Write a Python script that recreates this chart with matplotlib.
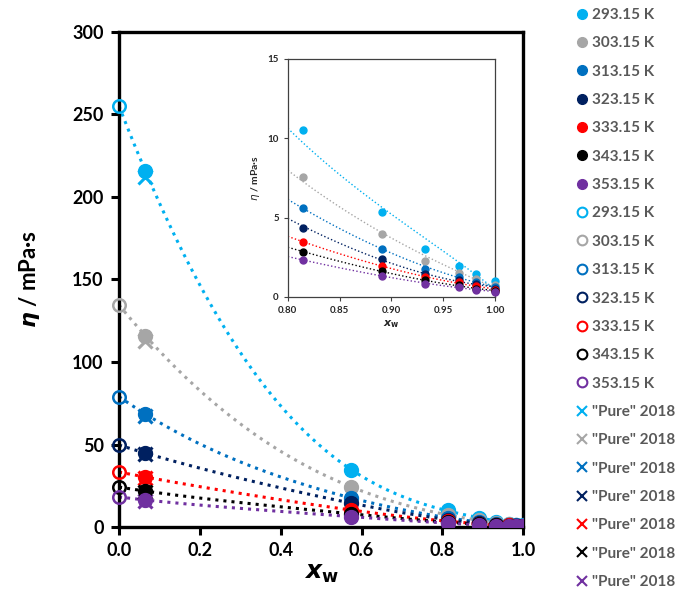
import numpy as np
import matplotlib
matplotlib.use('Agg')
import matplotlib.pyplot as plt
from matplotlib.lines import Line2D

plt.rcParams['font.family'] = ['Lato', 'DejaVu Sans']
plt.rcParams['mathtext.fontset'] = 'dejavusans'

# temperatures and colours
temps = ['293.15 K', '303.15 K', '313.15 K', '323.15 K', '333.15 K', '343.15 K', '353.15 K']
colors = ['#00B0F0', '#A6A6A6', '#0070C0', '#002060', '#FF0000', '#000000', '#7030A0']

# pure component (x_w = 0), open circles
x_open = 0.0
eta_open = [255, 134.5, 79, 49.7, 33.3, 24.2, 18.2]

# mixtures, filled circles
x_fill = [0.065, 0.575, 0.815, 0.891, 0.933, 0.965, 0.982, 1.0]
eta_293 = [216, 34.5, 10.53, 5.37, 2.99, 1.96, 1.43, 1.01]
eta_303 = [116, 24.2, 7.54, 3.98, 2.27, 1.54, 1.16, 0.74]
eta_313 = [68.5, 17.6, 5.62, 3.03, 1.79, 1.26, 0.95, 0.63]
eta_323 = [44.8, 14.5, 4.32, 2.40, 1.47, 1.09, 0.80, 0.53]
eta_333 = [30.3, 10.3, 3.45, 1.94, 1.26, 0.95, 0.67, 0.46]
eta_343 = [21.8, 8.0, 2.82, 1.62, 1.05, 0.74, 0.53, 0.38]
eta_353 = [16.4, 6.3, 2.32, 1.33, 0.84, 0.63, 0.46, 0.32]
eta_fill = [eta_293, eta_303, eta_313, eta_323, eta_333, eta_343, eta_353]

# "Pure" 2018 crosses
x_cross = 0.065
eta_cross = [212, 113, 67, 44, 29.5, 21, 15.8]

fig = plt.figure(figsize=(6.92, 6.03), dpi=100)
ax = fig.add_axes([0.172, 0.126, 0.584, 0.821])
ins = fig.add_axes([0.416, 0.5075, 0.299, 0.395])

# 4th order polynomial trendline, like the spreadsheet
def trend(i):
    xs = np.array([x_open] + x_fill)
    ys = np.array([eta_open[i]] + eta_fill[i])
    return np.polyfit(xs, ys, 4)

xx = np.linspace(0, 1, 300)
xi = np.linspace(0.8, 1, 100)
for i, c in enumerate(colors):
    p = trend(i)
    ax.plot(xx, np.polyval(p, xx), ls=':', lw=2.2, color=c, zorder=2)
    ins.plot(xi, np.polyval(p, xi), ls=':', lw=1.0, color=c, zorder=2)

for i, c in enumerate(colors):
    ax.plot(x_cross, eta_cross[i], 'x', ms=10, mew=2.2, color=c, zorder=3)
    ax.plot(x_fill, eta_fill[i], 'o', ms=10, color=c, zorder=4)
    ax.plot(x_open, eta_open[i], 'o', ms=9, mfc='none', mew=1.8, color=c, zorder=4, clip_on=False)
    ins.plot(x_fill[2:], eta_fill[i][2:], 'o', ms=5, color=c, zorder=4, clip_on=False)

ax.set_xlim(0, 1.0)
ax.set_ylim(0, 300)
ax.set_xticks(np.arange(0, 1.01, 0.2))
ax.set_xticklabels(['%.1f' % v for v in np.arange(0, 1.01, 0.2)])
ax.set_yticks(range(0, 301, 50))
for s in ax.spines.values():
    s.set_linewidth(2.4)
ax.tick_params(direction='out', length=6, width=2.2, labelsize=13, pad=5)
for t in ax.get_xticklabels() + ax.get_yticklabels():
    t.set_fontweight('bold')
ax.set_xlabel(r'$\mathbfit{x}_{\mathbf{w}}$', fontsize=18, labelpad=2)
ax.set_ylabel(r'$\mathbfit{\eta}$ / mPa·s', fontsize=16, fontweight='bold', labelpad=22)

ins.set_xlim(0.8, 1.0)
ins.set_ylim(0, 15)
ins.set_xticks([0.80, 0.85, 0.90, 0.95, 1.00])
ins.set_xticklabels(['0.80', '0.85', '0.90', '0.95', '1.00'])
ins.set_yticks([0, 5, 10, 15])
for s in ins.spines.values():
    s.set_linewidth(0.9)
    s.set_color('#404040')
ins.tick_params(direction='out', length=3, width=0.8, labelsize=7, colors='#404040', labelcolor='#262626')
for t in ins.get_xticklabels() + ins.get_yticklabels():
    t.set_fontweight('bold')
ins.set_xlabel(r'$\mathbfit{x}_{\mathbf{w}}$', fontsize=8, color='#262626', labelpad=2)
ins.set_ylabel(r'$\mathit{\eta}$ / mPa·s', fontsize=7.5, fontweight='bold', color='#262626')

handles, labels = [], []
for i, c in enumerate(colors):
    handles.append(Line2D([], [], ls='none', marker='o', ms=7, color=c))
    labels.append(temps[i])
for i, c in enumerate(colors):
    handles.append(Line2D([], [], ls='none', marker='o', ms=7, mfc='none', mew=1.5, color=c))
    labels.append(temps[i])
for i, c in enumerate(colors):
    handles.append(Line2D([], [], ls='none', marker='x', ms=7, mew=1.5, color=c))
    labels.append('"Pure" 2018')

leg = fig.legend(handles, labels, loc='upper left', bbox_to_anchor=(0.825, 0.997),
                 frameon=False, fontsize=11, handlelength=0.6, handletextpad=0.4,
                 labelspacing=0.94, borderaxespad=0)
for t in leg.get_texts():
    t.set_color('#595959')
    t.set_fontweight('bold')

fig.savefig('out.png', dpi=100)
